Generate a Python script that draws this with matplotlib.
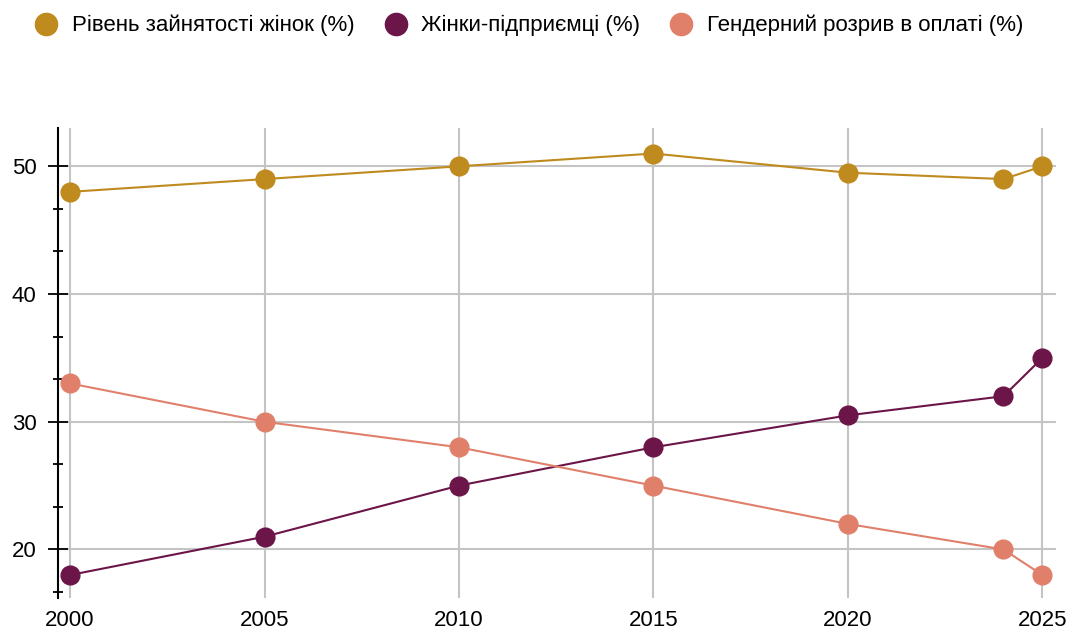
import matplotlib
matplotlib.use("Agg")
import matplotlib.pyplot as plt
from matplotlib.ticker import AutoMinorLocator, FixedLocator
from matplotlib.lines import Line2D

plt.rcParams['font.family'] = ['Liberation Sans', 'DejaVu Sans']

years = [2000, 2005, 2010, 2015, 2020, 2024, 2025]
employment = [48, 49, 50, 51, 49.5, 49, 50]
entrepreneurs = [18, 21, 25, 28, 30.5, 32, 35]
pay_gap = [33, 30, 28, 25, 22, 20, 18]
series_names = ["Рівень зайнятості жінок (%)", "Жінки-підприємці (%)", "Гендерний розрив в оплаті (%)"]
colors = ["#BF8A1E", "#6C1548", "#E0806B"]
x_ticks = [2000, 2005, 2010, 2015, 2020, 2025]
y_ticks = [20, 30, 40, 50]

fig = plt.figure(figsize=(10.69, 6.35), dpi=100)
ax = fig.add_axes([58/1069, 1-598/635, (1056-58)/1069, (598-128)/635])

for vals, c in zip([employment, entrepreneurs, pay_gap], colors):
    ax.plot(years, vals, color=c, lw=1.5, marker='o', ms=13.5, zorder=3, clip_on=False)

ax.set_xlim(1999.69, 2025.35)
ax.set_ylim(16.2, 53)
ax.xaxis.set_major_locator(FixedLocator(x_ticks))
ax.yaxis.set_major_locator(FixedLocator(y_ticks))
ax.yaxis.set_minor_locator(AutoMinorLocator(3))
ax.grid(True, which='major', color='#c4c4c4', lw=1.5)
ax.set_axisbelow(True)
for s in ['top', 'right', 'bottom']:
    ax.spines[s].set_visible(False)
ax.spines['left'].set_linewidth(1.5)
ax.tick_params(axis='y', which='major', direction='inout', length=15, width=1.3, labelsize=16, pad=8)
ax.tick_params(axis='y', which='minor', direction='inout', length=7.5, width=1.3)
ax.tick_params(axis='x', length=0, labelsize=16, pad=9)

handles = [Line2D([], [], color=c, marker='o', ls='none', ms=16) for c in colors]
fig.legend(handles, series_names, loc='upper left', bbox_to_anchor=(13/1069, 1+5/635), ncol=3,
           frameon=False, fontsize=16, handletextpad=0.55, columnspacing=1.25, handlelength=1.2)

fig.savefig("out.png", dpi=100)
